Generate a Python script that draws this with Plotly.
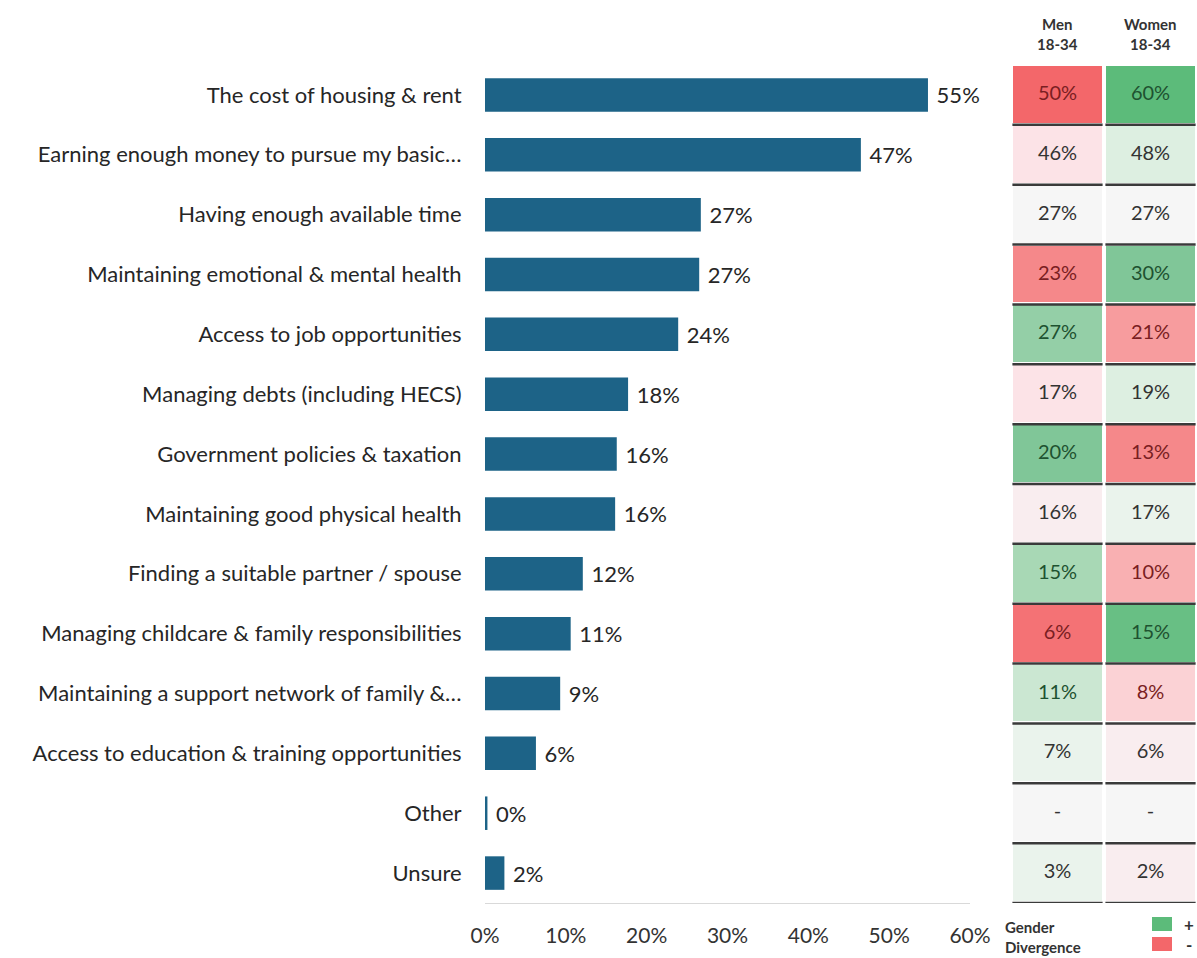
import plotly.graph_objects as go

# ---------------- data ----------------
categories = [
    "The cost of housing & rent",
    "Earning enough money to pursue my basic…",
    "Having enough available time",
    "Maintaining emotional & mental health",
    "Access to job opportunities",
    "Managing debts (including HECS)",
    "Government policies & taxation",
    "Maintaining good physical health",
    "Finding a suitable partner / spouse",
    "Managing childcare & family responsibilities",
    "Maintaining a support network of family &…",
    "Access to education & training opportunities",
    "Other",
    "Unsure",
]
total_values = [54.8, 46.5, 26.7, 26.5, 23.9, 17.7, 16.3, 16.1, 12.1, 10.6, 9.3, 6.3, 0.3, 2.4]
total_labels = ["55%", "47%", "27%", "27%", "24%", "18%", "16%", "16%", "12%", "11%", "9%", "6%", "0%", "2%"]

men_18_34 = [50, 46, 27, 23, 27, 17, 20, 16, 15, 6, 11, 7, None, 3]
women_18_34 = [60, 48, 27, 30, 21, 19, 13, 17, 10, 15, 8, 6, None, 2]

group_names = ["Men<br>18-34", "Women<br>18-34"]
x_ticks = [0, 10, 20, 30, 40, 50, 60]

# ---------------- styling ----------------
W, H = 1197, 958
FONT = "Lato"
BAR_COLOR = "#1D6387"
TEXT = "#262626"
RED_STRONG = "#F3676A"
GREEN_STRONG = "#5CBB7A"
colorscale = [
    [0.00, RED_STRONG],
    [0.15, "#F5888A"],
    [0.25, "#F9B0B2"],
    [0.40, "#FCE3E7"],
    [0.50, "#F6F6F6"],
    [0.60, "#DDEFE1"],
    [0.75, "#A8D8B5"],
    [0.85, "#80C698"],
    [1.00, GREEN_STRONG],
]


def px_y(py):
    return 1 - py / H


def px_x(px):
    return px / W


n = len(categories)
men_div = [(m - w) if m is not None else 0 for m, w in zip(men_18_34, women_18_34)]
women_div = [(w - m) if m is not None else 0 for m, w in zip(men_18_34, women_18_34)]
z = [[a, b] for a, b in zip(men_div, women_div)]


def cell_label(v):
    return "-" if v is None else f"{v}%"


def cell_color(d):
    if d >= 3:
        return "#1E5230"
    if d <= -3:
        return "#7A1E22"
    return "#333333"


fig = go.Figure()

fig.add_trace(go.Bar(
    x=total_values, y=categories, orientation="h",
    marker=dict(color=BAR_COLOR, line=dict(width=0)),
    text=total_labels, texttemplate="\u00a0%{text}",
    textposition="outside", cliponaxis=False,
    textfont=dict(family=FONT, size=22, color=TEXT),
    xaxis="x", yaxis="y", hoverinfo="skip",
))

fig.add_trace(go.Heatmap(
    x=[0, 1], y=categories, z=z,
    colorscale=colorscale, zmin=-10, zmax=10, showscale=False,
    xgap=4, ygap=3, xaxis="x2", yaxis="y", hoverinfo="skip",
))

cell_x = [0] * n + [1] * n
cell_y = categories + categories
cell_text = [cell_label(v) for v in men_18_34] + [cell_label(v) for v in women_18_34]
cell_cols = [cell_color(d) for d in men_div] + [cell_color(d) for d in women_div]
fig.add_trace(go.Scatter(
    x=cell_x, y=cell_y, mode="text", text=cell_text,
    textfont=dict(family=FONT, size=20, color=cell_cols),
    xaxis="x2", yaxis="y", hoverinfo="skip", showlegend=False,
))

# row separator lines in the table
shapes = []
for k in range(n):
    for c in range(2):
        shapes.append(dict(
            type="line", xref="x2", yref="y",
            x0=c - 0.485, x1=c + 0.485, y0=k + 0.5, y1=k + 0.5,
            line=dict(color="#3A3A3A", width=2.5), layer="above",
        ))

# legend squares
shapes.append(dict(type="rect", xref="paper", yref="paper",
                   x0=px_x(1152), x1=px_x(1172), y0=px_y(931), y1=px_y(917),
                   fillcolor=GREEN_STRONG, line=dict(width=0)))
shapes.append(dict(type="rect", xref="paper", yref="paper",
                   x0=px_x(1152), x1=px_x(1172), y0=px_y(951), y1=px_y(937),
                   fillcolor=RED_STRONG, line=dict(width=0)))

annotations = []
for i, g in enumerate(group_names):
    annotations.append(dict(
        x=i, xref="x2", y=px_y(34), yref="paper", yanchor="middle",
        text=f"<b>{g}</b>", showarrow=False,
        font=dict(family=FONT, size=15, color="#333333"),
    ))
annotations.append(dict(
    x=px_x(1003), xref="paper", xanchor="left", y=px_y(937), yref="paper", yanchor="middle",
    text="<b>Gender<br>Divergence</b>", showarrow=False, align="left",
    font=dict(family=FONT, size=15, color="#333333"),
))
annotations.append(dict(
    x=px_x(1182), xref="paper", xanchor="left", y=px_y(924), yref="paper", yanchor="middle",
    text="<b>+</b>", showarrow=False, font=dict(family=FONT, size=17, color="#333333"),
))
annotations.append(dict(
    x=px_x(1184), xref="paper", xanchor="left", y=px_y(944), yref="paper", yanchor="middle",
    text="<b>-</b>", showarrow=False, font=dict(family=FONT, size=17, color="#333333"),
))

fig.update_layout(
    width=W, height=H,
    margin=dict(l=0, r=0, t=0, b=0),
    paper_bgcolor="white", plot_bgcolor="white",
    showlegend=False, bargap=0.44,
    font=dict(family=FONT, color=TEXT),
    xaxis=dict(
        domain=[px_x(485), px_x(970)], range=[0, 60], anchor="y",
        tickvals=x_ticks, ticktext=[f"{t}%" for t in x_ticks],
        showgrid=False, zeroline=False, showline=True, linecolor="#D9D9D9", linewidth=1,
        ticks="outside", ticklen=14, tickcolor="rgba(0,0,0,0)",
        tickfont=dict(family=FONT, size=21, color="#333333"), automargin=False,
    ),
    xaxis2=dict(
        domain=[px_x(1011), 1.0], range=[-0.5, 1.5], anchor="y",
        visible=False, showgrid=False, zeroline=False,
    ),
    yaxis=dict(
        domain=[px_y(903), px_y(65)], range=[n - 0.5, -0.5],
        categoryorder="array", categoryarray=categories,
        showgrid=False, zeroline=False, showline=False,
        ticks="outside", ticklen=18, tickcolor="rgba(0,0,0,0)",
        tickfont=dict(family=FONT, size=22, color=TEXT), automargin=False,
    ),
    shapes=shapes, annotations=annotations,
)

fig.write_html(
    "out.html",
    config={"displayModeBar": False},
    post_script="document.body.style.margin='0px';document.body.style.overflow='hidden';",
)
